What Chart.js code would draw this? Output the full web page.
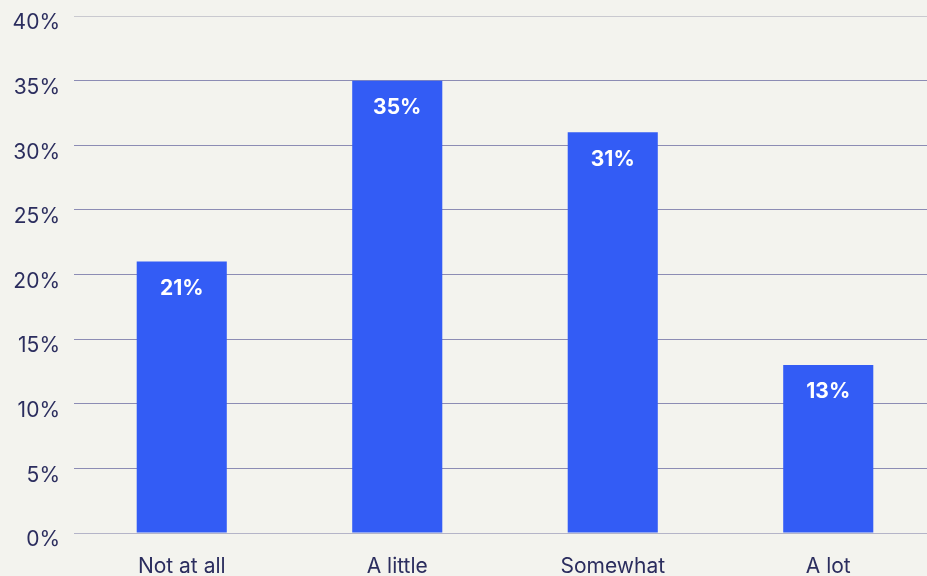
<!DOCTYPE html>
<html>
<head>
<meta charset="utf-8">
<script src="https://cdn.jsdelivr.net/npm/chart.js@4"></script>
<style>
  html, body { margin: 0; padding: 0; background: #f3f3ee; overflow: hidden; }
  #wrap { width: 936px; height: 590px; position: relative; }
</style>
</head>
<body>
<div id="wrap"><canvas id="c"></canvas></div>
<script>
const categories = ["Not at all", "A little", "Somewhat", "A lot"];
const values = [21, 35, 31, 13];
const valueLabels = ["21%", "35%", "31%", "13%"];
const yTicks = [0, 5, 10, 15, 20, 25, 30, 35, 40];

const textColor = "#2b2d5e";
const barColor = "#335cf5";

const dataLabelPlugin = {
  id: "dataLabels",
  afterDatasetsDraw(chart) {
    const ctx = chart.ctx;
    const meta = chart.getDatasetMeta(0);
    ctx.save();
    ctx.fillStyle = "#ffffff";
    ctx.font = "bold 21px Inter, 'Liberation Sans', sans-serif";
    ctx.textAlign = "center";
    ctx.textBaseline = "middle";
    meta.data.forEach((bar, i) => {
      ctx.fillText(valueLabels[i], bar.x, bar.y + 27);
    });
    ctx.restore();
  }
};

new Chart(document.getElementById("c"), {
  type: "bar",
  data: {
    labels: categories,
    datasets: [{
      data: values,
      backgroundColor: barColor,
      barPercentage: 0.418,
      categoryPercentage: 1.0
    }]
  },
  options: {
    responsive: true,
    maintainAspectRatio: false,
    animation: false,
    layout: { padding: { top: 16, left: 0, right: 0, bottom: 0 } },
    plugins: { legend: { display: false }, tooltip: { enabled: false } },
    scales: {
      x: {
        grid: { display: false, drawTicks: false },
        border: { display: false },
        ticks: {
          color: textColor,
          font: { family: "Inter, 'Liberation Sans', sans-serif", size: 21 },
          padding: 21,
          maxRotation: 0
        },
        afterFit(scale) { scale.height = 57; scale.paddingLeft = 0; scale.paddingRight = 0; }
      },
      y: {
        min: 0,
        max: 40,
        afterBuildTicks(scale) { scale.ticks = yTicks.map(v => ({ value: v })); },
        grid: {
          drawTicks: false,
          color(ctx) {
            const v = ctx.tick && ctx.tick.value;
            if (v === 40) return "#c9c9cf";
            if (v === 0) return "#b4b4c8";
            return "#8c8cb4";
          },
          lineWidth: 1
        },
        border: { display: false },
        ticks: {
          color: textColor,
          font: { family: "Inter, 'Liberation Sans', sans-serif", size: 21 },
          padding: 14,
          labelOffset: 7,
          callback: v => v + "%"
        },
        afterFit(scale) { scale.width = 74; scale.paddingTop = 0; scale.paddingBottom = 0; }
      }
    }
  },
  plugins: [dataLabelPlugin]
});
</script>
</body>
</html>
